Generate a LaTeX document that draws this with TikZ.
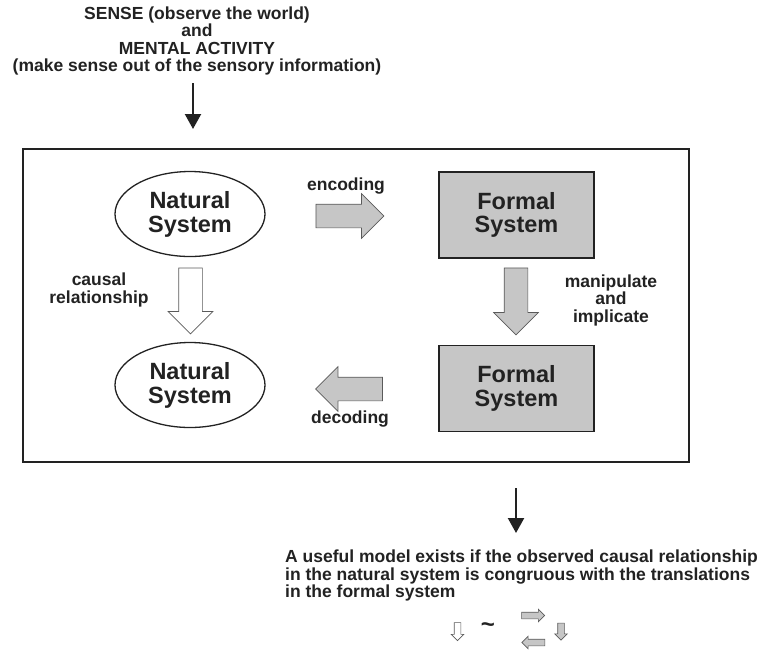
\documentclass[tikz,border=0pt]{standalone}
\usepackage{fontspec}
\setmainfont{Liberation Sans}
\usetikzlibrary{shapes.geometric,shapes.arrows,arrows.meta}

\definecolor{boxgray}{HTML}{C6C6C6}
\definecolor{ink}{HTML}{222222}
\definecolor{arrline}{HTML}{5A5A5A}

\tikzset{
  lbl/.style={font=\bfseries\fontsize{17.5}{17.5}\selectfont, text=ink, align=center, inner sep=0pt},
  natsys/.style={ellipse, draw=ink, line width=1.3pt, minimum width=150pt, minimum height=85pt,
    inner sep=0pt, align=center, text=ink, font=\bfseries\fontsize{23.5}{24}\selectfont},
  formsys/.style={rectangle, draw=ink, line width=1.5pt, fill=boxgray, minimum width=155pt,
    minimum height=86pt, inner sep=0pt, align=center, text=ink, font=\bfseries\fontsize{23.5}{23.5}\selectfont},
  blockarr/.style={single arrow, draw=arrline, line width=0.7pt, inner sep=11.5pt,
    text width=0pt, text height=0pt, text depth=0pt,
    single arrow head extend=10.5pt, single arrow head indent=0pt},
  tinyarr/.style={single arrow, draw=arrline, line width=0.6pt, inner sep=3pt,
    text width=0pt, text height=0pt, text depth=0pt,
    single arrow head extend=3pt, single arrow head indent=0pt, minimum height=20pt},
  blackarr/.style={line width=2.2pt, draw=ink, -{Triangle[width=16pt,length=15pt]}}
}

\begin{document}
\begin{tikzpicture}[x=1pt,y=-1pt]
\useasboundingbox (0,0) rectangle (771,649);
% top text
\node[lbl] (sense) at (197,41) {SENSE (observe the world)\\and\\MENTAL ACTIVITY\\(make sense out of the sensory information)};
\coordinate (in1) at (193,83);
\coordinate (in2) at (193,129);
\draw[blackarr] (in1) -- (in2);
% frame
\node[draw=ink, line width=2pt, minimum width=666pt, minimum height=313pt, inner sep=0pt] (frame) at (356,305.5) {};
\node[natsys] (nat1) at (190,214) {Natural\\System};
\node[natsys] (nat2) at (190,385) {Natural\\System};
\node[formsys] (form1) at (516.5,215) {Formal\\System};
\node[formsys] (form2) at (516.5,388.5) {Formal\\System};
% block arrows
\node[blockarr, fill=boxgray, minimum height=68pt] (enc) at (344,216) {};
\node[blockarr, fill=boxgray, minimum height=67pt, shape border rotate=180] (dec) at (355,389) {};
\node[blockarr, fill=white, minimum height=66pt, shape border rotate=270] (caus) at (190.5,295) {};
\node[blockarr, fill=boxgray, minimum height=67pt, shape border rotate=270] (manip) at (516,295.5) {};
\node[lbl] (enclbl) at (346,186) {encoding};
\node[lbl] (declbl) at (350,419) {decoding};
\node[lbl] (causlbl) at (99,290) {causal\\relationship};
\node[lbl] (maniplbl) at (611,300) {manipulate\\and\\implicate};
% conclusion
\coordinate (out1) at (516,488);
\coordinate (out2) at (516,533);
\draw[blackarr] (out1) -- (out2);
\node[lbl, align=left, anchor=west] (useful) at (285,575.5) {A useful model exists if the observed causal relationship\\in the natural system is congruous with the translations\\in the formal system};
\node[tinyarr, fill=white, shape border rotate=270, minimum height=18pt] (s1) at (457.5,630) {};
\node[lbl, font=\bfseries\fontsize{24}{24}\selectfont] (sim) at (488,628) {\textasciitilde};
\node[tinyarr, fill=boxgray, minimum height=23pt] (s2) at (531.5,615.5) {};
\node[tinyarr, fill=boxgray, minimum height=23pt, shape border rotate=180] (s3) at (535,642.5) {};
\node[tinyarr, fill=boxgray, shape border rotate=270, minimum height=17pt] (s4) at (561,630) {};
\end{tikzpicture}
\end{document}
